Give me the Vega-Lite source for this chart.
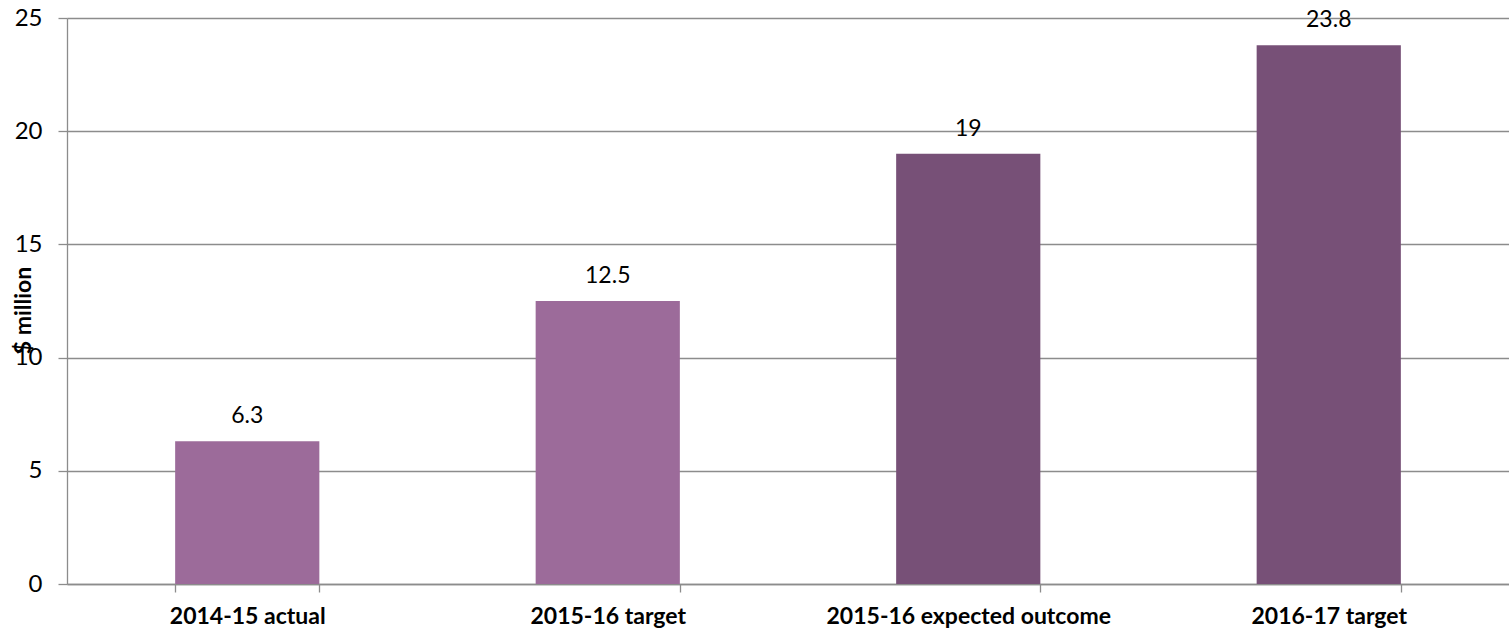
{
  "$schema": "https://vega.github.io/schema/vega-lite/v6.json",
  "width": 1442,
  "height": 566,
  "autosize": {"type": "none"},
  "padding": {"left": 67, "top": 18, "right": 0, "bottom": 46},
  "background": "white",
  "config": {
    "view": {"stroke": null},
    "font": "Lato"
  },
  "data": {
    "values": [
      {"category": "2014-15 actual", "value": 6.3, "kind": "a"},
      {"category": "2015-16 target", "value": 12.5, "kind": "a"},
      {"category": "2015-16 expected outcome", "value": 19, "kind": "b"},
      {"category": "2016-17 target", "value": 23.8, "kind": "b"}
    ]
  },
  "encoding": {
    "x": {
      "field": "category",
      "type": "nominal",
      "sort": null,
      "scale": {"paddingInner": 0.6, "paddingOuter": 0.3},
      "axis": {
        "title": null,
        "labelAngle": 0,
        "labelFont": "Lato",
        "labelFontWeight": "bold",
        "labelFontSize": 23,
        "labelColor": "#000000",
        "labelPadding": 13,
        "labelLimit": 0,
        "tickBand": "extent",
        "tickSize": 8,
        "tickColor": "#8c8c8c",
        "domainColor": "#8c8c8c",
        "domainWidth": 1.3,
        "tickWidth": 1.3
      }
    },
    "y": {
      "field": "value",
      "type": "quantitative",
      "scale": {"domain": [0, 25], "nice": false},
      "axis": {
        "values": [0, 5, 10, 15, 20, 25],
        "title": "$ million",
        "titleFont": "Lato",
        "titleFontWeight": "bold",
        "titleFontSize": 23,
        "titleColor": "#000000",
        "titleAngle": -90,
        "titleX": -44,
        "titleY": 292,
        "titleAlign": "center",
        "titleBaseline": "middle",
        "labelFont": "Lato",
        "labelFontSize": 24,
        "labelColor": "#000000",
        "labelPadding": 16,
        "tickSize": 9,
        "tickColor": "#8c8c8c",
        "tickWidth": 1.3,
        "domainColor": "#8c8c8c",
        "domainWidth": 1.3,
        "grid": true,
        "gridColor": "#8c8c8c",
        "gridWidth": 1.3
      }
    }
  },
  "layer": [
    {
      "mark": {"type": "bar"},
      "encoding": {
        "color": {
          "field": "kind",
          "type": "nominal",
          "scale": {"domain": ["a", "b"], "range": ["#9c6b9a", "#775077"]},
          "legend": null
        }
      }
    },
    {
      "mark": {"type": "text", "baseline": "alphabetic", "dy": -18, "fontSize": 23, "font": "Lato", "color": "#000000"},
      "encoding": {
        "text": {"field": "value", "type": "quantitative"}
      }
    }
  ]
}
